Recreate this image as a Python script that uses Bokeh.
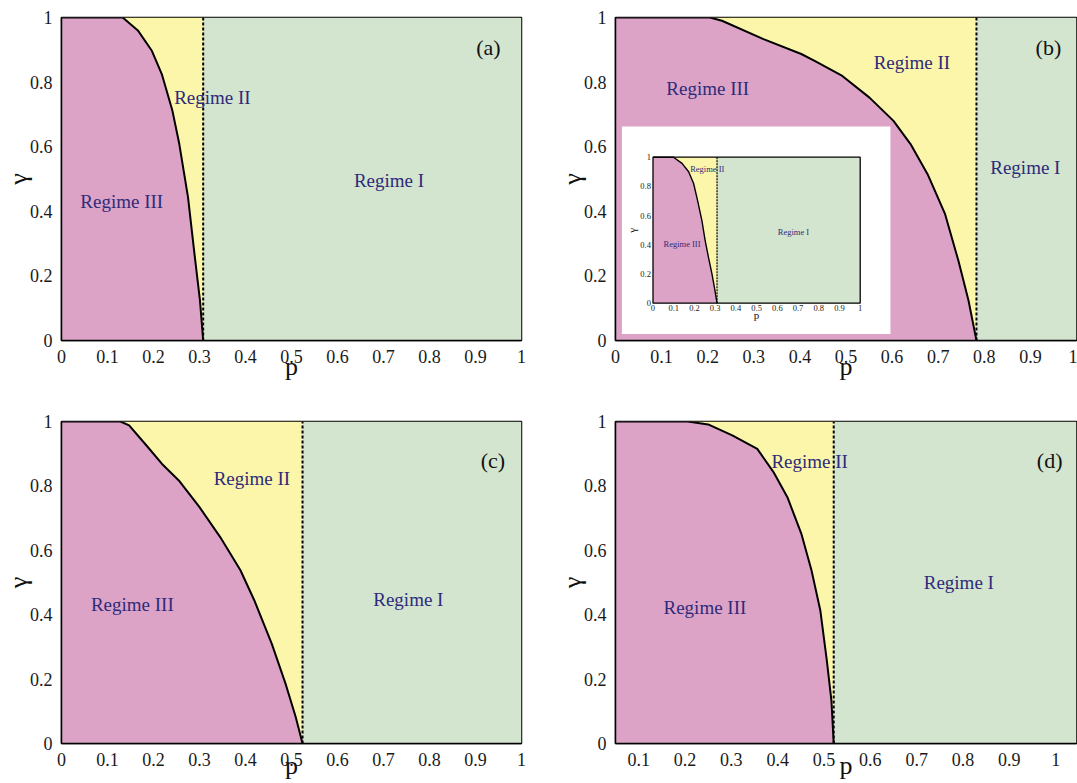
import math
from bokeh.plotting import figure
from bokeh.layouts import column, row
from bokeh.models import Range1d, FixedTicker, NumeralTickFormatter
from bokeh.core.properties import value
from bokeh.embed import file_html
from bokeh.resources import INLINE

# ---------------- data ----------------
# boundary curve between Regime III and Regime II (p, gamma)
a_p = [0.0, 0.133, 0.166, 0.196, 0.218, 0.241, 0.256, 0.275, 0.289, 0.301, 0.308]
a_g = [1.0, 1.0, 0.96, 0.898, 0.825, 0.712, 0.609, 0.444, 0.269, 0.124, 0.0]
a_pc = 0.308

b_p = [0.0, 0.205, 0.231, 0.321, 0.403, 0.432, 0.492, 0.551, 0.603, 0.640, 0.677, 0.715, 0.744, 0.766, 0.783]
b_g = [1.0, 1.0, 0.99, 0.933, 0.887, 0.866, 0.819, 0.752, 0.680, 0.608, 0.515, 0.391, 0.246, 0.122, 0.0]
b_pc = 0.783

c_p = [0.0, 0.128, 0.147, 0.188, 0.218, 0.255, 0.300, 0.345, 0.389, 0.419, 0.457, 0.487, 0.509, 0.524]
c_g = [1.0, 1.0, 0.988, 0.920, 0.869, 0.817, 0.734, 0.641, 0.538, 0.445, 0.310, 0.186, 0.083, 0.0]
c_pc = 0.524

d_p = [0.0, 0.206, 0.250, 0.302, 0.356, 0.391, 0.421, 0.451, 0.473, 0.492, 0.506, 0.516, 0.521]
d_g = [1.0, 1.0, 0.991, 0.957, 0.915, 0.843, 0.765, 0.652, 0.538, 0.414, 0.259, 0.134, 0.0]
d_pc = 0.521

inset_p = [0.0, 0.099, 0.140, 0.172, 0.196, 0.215, 0.236, 0.252, 0.268, 0.285, 0.297, 0.309]
inset_g = [1.0, 1.0, 0.958, 0.900, 0.820, 0.704, 0.566, 0.427, 0.312, 0.197, 0.104, 0.0]
inset_pc = 0.309

regime_names = ["Regime I", "Regime II", "Regime III"]
a_lab_p = [0.712, 0.328, 0.131]
a_lab_g = [0.495, 0.752, 0.431]
b_lab_p = [0.889, 0.643, 0.200]
b_lab_g = [0.535, 0.861, 0.781]
c_lab_p = [0.754, 0.414, 0.154]
c_lab_g = [0.447, 0.822, 0.432]
d_lab_p = [0.791, 0.469, 0.243]
d_lab_g = [0.501, 0.876, 0.422]
inset_lab_p = [0.678, 0.262, 0.140]
inset_lab_g = [0.490, 0.917, 0.404]

x_ticks = [0.0, 0.1, 0.2, 0.3, 0.4, 0.5, 0.6, 0.7, 0.8, 0.9, 1.0]
x_tick_labels = ["0", "0.1", "0.2", "0.3", "0.4", "0.5", "0.6", "0.7", "0.8", "0.9", "1"]
d_x_ticks = [0.1, 0.2, 0.3, 0.4, 0.5, 0.6, 0.7, 0.8, 0.9, 1.0]
d_x_tick_labels = ["0.1", "0.2", "0.3", "0.4", "0.5", "0.6", "0.7", "0.8", "0.9", "1"]
y_ticks = [0.0, 0.2, 0.4, 0.6, 0.8, 1.0]
y_tick_labels = ["0", "0.2", "0.4", "0.6", "0.8", "1"]

# ---------------- style ----------------
PINK = "#dca3c6"
YELLOW = "#fbf6aa"
GREEN = "#d3e5cf"
NAVY = "#2e2b7a"
FONT = "Liberation Serif"


def draw_regions(fig, cp, cg, pc, xend, lw=2.0, dash_w=2.0, dash="3 2", **rn):
    fig.patch(cp + [pc], cg + [1.0], fill_color=YELLOW, line_color=None, **rn)
    fig.patch(cp + [cp[0]], cg + [0.0], fill_color=PINK, line_color=None, **rn)
    fig.quad(left=[pc], right=[xend], bottom=[0.0], top=[1.0], fill_color=GREEN, line_color=None, **rn)
    fig.line(cp, cg, line_color="black", line_width=lw, **rn)
    fig.segment(x0=[pc], y0=[0.0], x1=[pc], y1=[1.0], line_color="black",
                line_width=dash_w, line_dash=dash, **rn)


def make_panel(cp, cg, pc, x0, x1, xt, xtl, lp, lg, tag, tag_p, tag_g,
               width, height, bl, br, bt, bb, xlab_standoff):
    fig = figure(width=width, height=height, x_range=Range1d(x0, x1), y_range=Range1d(0, 1),
                 output_backend="svg", toolbar_location=None,
                 min_border_left=bl, min_border_right=br, min_border_top=bt, min_border_bottom=bb)
    fig.xgrid.visible = False
    fig.ygrid.visible = False
    fig.background_fill_color = "white"
    fig.border_fill_color = "white"
    fig.outline_line_color = "black"
    fig.outline_line_width = 1.5

    draw_regions(fig, cp, cg, pc, x1)

    fig.text(x=lp, y=lg, text=regime_names, text_font=value(FONT), text_font_size="19px",
             text_color=NAVY, text_align="center", text_baseline="middle")
    fig.text(x=[tag_p], y=[tag_g], text=[tag], text_font=value(FONT), text_font_size="22px",
             text_color="#111111", text_align="center", text_baseline="middle")

    fig.xaxis.ticker = FixedTicker(ticks=xt)
    fig.xaxis.formatter = NumeralTickFormatter(format="0.[0]")
    fig.xaxis.major_label_overrides = {t: s for t, s in zip(xt, xtl)}
    fig.yaxis.ticker = FixedTicker(ticks=y_ticks)
    fig.yaxis.formatter = NumeralTickFormatter(format="0.[0]")
    fig.yaxis.major_label_overrides = {t: s for t, s in zip(y_ticks, y_tick_labels)}
    for ax in (fig.xaxis, fig.yaxis):
        ax.major_label_text_font = FONT
        ax.major_label_text_font_size = "18px"
        ax.major_label_text_color = "#1a1a1a"
        ax.major_label_standoff = 3
        ax.major_tick_line_color = None
        ax.minor_tick_line_color = None
        ax.axis_line_color = "black"
        ax.axis_line_width = 1.5
        ax.axis_label_text_font = FONT
        ax.axis_label_text_font_style = "normal"
        ax.axis_label_text_font_size = "26px"
        ax.axis_label_text_color = "#111111"
    fig.xaxis.axis_label = "p"
    fig.xaxis.axis_label_standoff = xlab_standoff
    fig.yaxis.axis_label = "γ"
    fig.yaxis.axis_label_standoff = -6
    return fig


fa = make_panel(a_p, a_g, a_pc, 0.0, 1.0, x_ticks, x_tick_labels, a_lab_p, a_lab_g,
                "(a)", 0.928, 0.906, 554, 404, 61, 33, 17, 64, -14)
fb = make_panel(b_p, b_g, b_pc, 0.0, 1.0, x_ticks, x_tick_labels, b_lab_p, b_lab_g,
                "(b)", 0.939, 0.907, 523, 404, 61, 1, 17, 64, -14)
fc = make_panel(c_p, c_g, c_pc, 0.0, 1.0, x_ticks, x_tick_labels, c_lab_p, c_lab_g,
                "(c)", 0.938, 0.879, 554, 379, 61, 33, 17, 40, -18)
fd = make_panel(d_p, d_g, d_pc, 0.05, 1.045, d_x_ticks, d_x_tick_labels, d_lab_p, d_lab_g,
                "(d)", 0.987, 0.879, 523, 379, 61, 1, 17, 40, -18)

# ---------------- inset in (b) ----------------
fb.extra_x_ranges = {"ix": Range1d(-0.18098, 2.04391)}
fb.extra_y_ranges = {"iy": Range1d(-0.25548, 1.95686)}
rn = dict(x_range_name="ix", y_range_name="iy")
fb.quad(left=[-0.15], right=[1.146], bottom=[-0.211], top=[1.21], fill_color="white",
        line_color=None, **rn)
draw_regions(fb, inset_p, inset_g, inset_pc, 1.0, lw=1.4, dash_w=1.2, dash="2 1", **rn)
fb.quad(left=[0.0], right=[1.0], bottom=[0.0], top=[1.0], fill_color=None,
        line_color="black", line_width=1.3, **rn)
fb.text(x=inset_lab_p, y=inset_lab_g, text=regime_names, text_font=value(FONT),
        text_font_size="8.5px", text_color=NAVY, text_align="center", text_baseline="middle", **rn)
fb.text(x=x_ticks, y=[0.0] * len(x_ticks), text=x_tick_labels, y_offset=2, text_font=value(FONT),
        text_font_size="8.5px", text_color="#222222", text_align="center", text_baseline="top", **rn)
fb.text(x=[0.0] * len(y_ticks), y=y_ticks, text=y_tick_labels, x_offset=-2, text_font=value(FONT),
        text_font_size="8.5px", text_color="#222222", text_align="right", text_baseline="middle", **rn)
fb.text(x=[0.5], y=[0.0], text=["p"], y_offset=12, text_font=value(FONT), text_font_size="11px",
        text_color="#111111", text_align="center", text_baseline="middle", **rn)
fb.text(x=[0.0], y=[0.5], text=["γ"], x_offset=-21, angle=math.pi / 2, text_font=value(FONT),
        text_font_size="11px", text_color="#111111", text_align="center", text_baseline="middle", **rn)

layout = column(row(fa, fb), row(fc, fd))
open("out.html", "w").write(file_html(layout, INLINE))
